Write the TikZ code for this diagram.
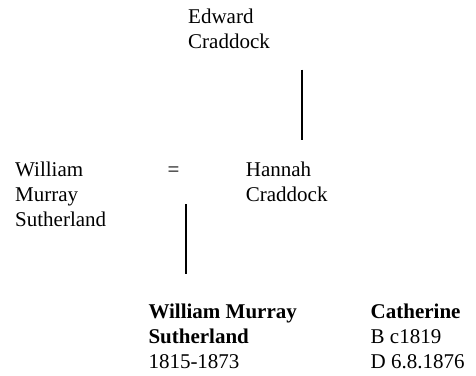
\documentclass[tikz,border=0pt]{standalone}
\usepackage{fontspec}
\setmainfont{Liberation Serif}
\begin{document}
\begin{tikzpicture}[x=1pt,y=-1pt,
  person/.style={anchor=base west,inner sep=0pt,align=left,font=\fontsize{21}{25}\selectfont},
  descent/.style={line width=1.6pt}]
\useasboundingbox (0,0) rectangle (476,375);
% parents of Hannah (nodes are placed by the baseline of their last line)
\node[person] (edward) at (188,48.3) {Edward\\Craddock};
\coordinate (e1) at (301.7,69.5);
\coordinate (e2) at (301.7,140);
\draw[descent] (e1) -- (e2);
% marriage
\node[person] (william) at (15,226.7) {William\\Murray\\Sutherland};
\node[person] (eq) at (167.5,176.7) {=};
\node[person] (hannah) at (245.7,201.7) {Hannah\\Craddock};
\coordinate (m1) at (186,204);
\coordinate (m2) at (186,274.3);
\draw[descent] (m1) -- (m2);
% children
\node[person] (son) at (148.3,368.3) {\textbf{William Murray}\\\textbf{Sutherland}\\1815-1873};
\node[person] (daughter) at (370.5,368.3) {\textbf{Catherine}\\B c1819\\D 6.8.1876};
\end{tikzpicture}
\end{document}
